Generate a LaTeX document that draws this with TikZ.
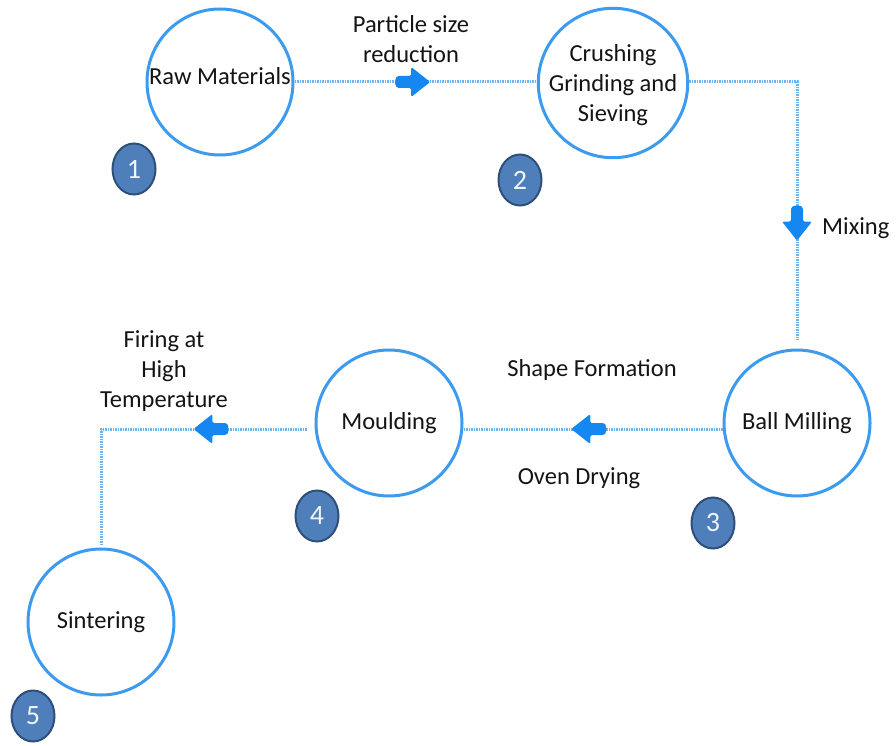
\documentclass[tikz,border=0pt]{standalone}
\usepackage{fontspec}
\setmainfont{Carlito}
\usetikzlibrary{shapes.geometric,calc}
\definecolor{ringblue}{HTML}{3D9BEF}
\definecolor{dotblue}{HTML}{6AB4F2}
\definecolor{arrblue}{HTML}{1487F0}
\definecolor{badgefill}{HTML}{4F7FBA}
\definecolor{badgeline}{HTML}{2F4F78}
\definecolor{txt}{HTML}{141414}
\begin{document}
\begin{tikzpicture}[x=1pt,y=-1pt,
  stage/.style={circle, draw=ringblue, line width=3pt, fill=white, minimum size=146pt, inner sep=0pt, align=center, font=\fontsize{24.5}{30}\selectfont, text=txt},
  badge/.style={ellipse, draw=badgeline, line width=2pt, fill=badgefill, minimum width=43pt, minimum height=51pt, inner sep=0pt, text=white!92!badgefill, font=\fontsize{28}{30}\selectfont},
  conn/.style={dotblue, line width=3pt, dash pattern=on 1.5pt off 1pt},
  lbl/.style={align=center, text=txt, font=\fontsize{24.5}{30}\selectfont, inner sep=0pt},
  blkarrow/.pic={\fill[arrblue, rounded corners=1.5pt] (0,0) -- (-19,-15) -- (-19,-6) -- (-33,-6) -- (-35,-3) -- (-35,3) -- (-33,6) -- (-19,6) -- (-19,15) -- cycle;}
]
\useasboundingbox (0,0) rectangle (896,746);

\node[stage, text depth=12pt] (raw) at (220,82) {Raw Materials};
\node[stage, yshift=-3pt, text depth=0pt] (crush) at (613,80) {Crushing\\Grinding and\\Sieving};
\node[stage] (ball) at (797,423) {Ball Milling};
\node[stage] (mould) at (389,423) {Moulding};
\node[stage] (sinter) at (101,622) {Sintering};

\node[badge] (b1) at (134,169) {1};
\node[badge] (b2) at (520,180) {2};
\node[badge] (b3) at (713,523) {3};
\node[badge] (b4) at (317,516) {4};
\node[badge] (b5) at (33,716) {5};

\path ([yshift=-6pt]ball.west) coordinate (bw)
      ([yshift=-6pt]mould.east) coordinate (me)
      ([xshift=-8pt,yshift=-6pt]mould.west) coordinate (mw)
      ([yshift=9pt]ball.north) coordinate (bn)
      ([yshift=3pt]sinter.north) coordinate (sn);
\coordinate (bend) at (mw -| sinter.north);

\draw[conn] (raw) -- (raw -| crush.west);
\draw[conn] (crush.east |- raw) -| (bn);
\draw[conn] (bw) -- (me);
\draw[conn] (mw) -| (sn);

\pic at ($(raw.east)!0.56!(raw -| crush.west)$) {blkarrow};
\pic[rotate=-90] at ($(crush.east |- raw -| ball.north)!0.595!(ball.north)$) {blkarrow};
\pic[rotate=180] at ($(bw)!0.584!(me)$) {blkarrow};
\pic[rotate=180] at ($(mw)!0.55!(bend)$) {blkarrow};

\node[lbl] (l1) at (411,39) {Particle size\\reduction};
\node[lbl, anchor=west] (l2) at (822,228) {Mixing};
\node[lbl] (l3) at (592,370) {Shape Formation};
\node[lbl] (l4) at (579,478) {Oven Drying};
\node[lbl] (l5) at (164,371) {Firing at\\High\\Temperature};
\end{tikzpicture}
\end{document}
